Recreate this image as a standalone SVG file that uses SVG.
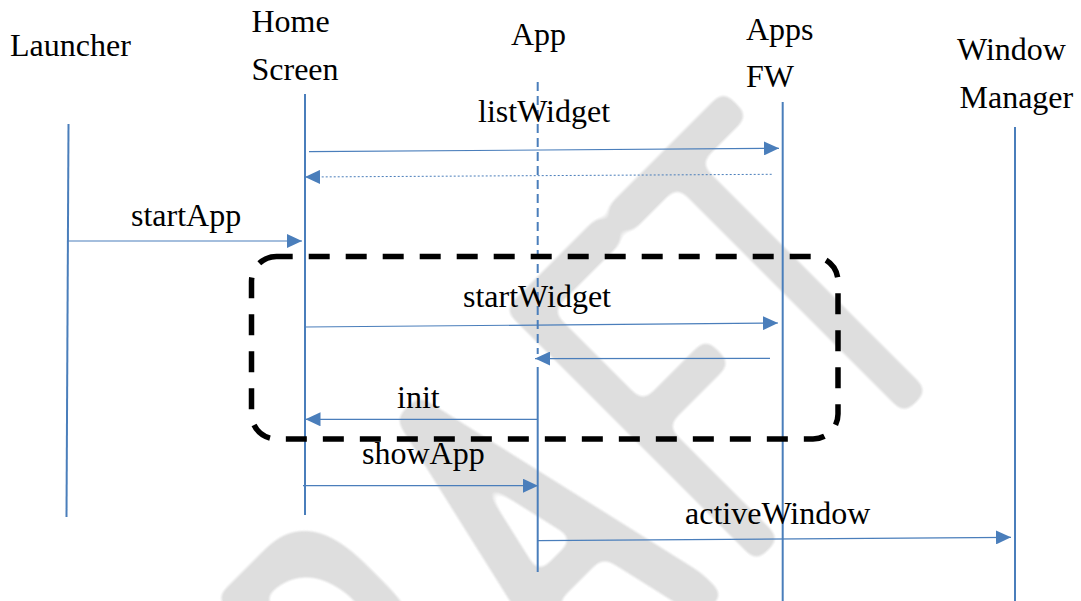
<svg xmlns="http://www.w3.org/2000/svg" width="1081" height="601" viewBox="0 0 1081 601">
<style>
.lbl{font-family:"Liberation Serif","Times New Roman",serif;font-size:32px;fill:#000}
.life{stroke:#4a7ebb;stroke-width:2;fill:none}
.msg{stroke:#4a7ebb;stroke-width:1.2;fill:none;marker-end:url(#ah)}
.ret{stroke:#4a7ebb;stroke-width:1;fill:none;stroke-dasharray:2 2;marker-end:url(#ah)}
.wm{font-family:Lato,"DejaVu Sans",sans-serif;font-weight:100;font-size:466px;fill:#dedede}
</style>
<defs>
<marker id="ah" markerWidth="15" markerHeight="14" refX="15" refY="7" orient="auto" markerUnits="userSpaceOnUse"><path d="M0,0 L15,7 L0,14 Z" fill="#4a7ebb"/></marker>
<filter id="wmf" filterUnits="userSpaceOnUse" x="-1000" y="300" width="1800" height="900" color-interpolation-filters="sRGB">
<feMorphology in="SourceAlpha" operator="dilate" radius="15" result="d"/>
<feGaussianBlur in="d" stdDeviation="7" result="b"/>
<feComponentTransfer in="b" result="t"><feFuncA type="linear" slope="6" intercept="-2.5"/></feComponentTransfer>
<feFlood flood-color="#dedede" result="c"/>
<feComposite in="c" in2="t" operator="in"/>
</filter>
</defs>
<rect width="1081" height="601" fill="#fff"/>
<g id="watermark" transform="rotate(-45)" filter="url(#wmf)"><text class="wm" transform="scale(0.55,1)" x="-689 -380 0 355 660" y="917" text-anchor="middle">DRAFT</text></g>
<g id="launcher"><text class="lbl" x="10" y="56">Launcher</text><line class="life" x1="68.5" y1="124" x2="66.5" y2="517"/></g>
<g id="home-screen"><text class="lbl" x="251.5" y="32">Home</text><text class="lbl" x="251.5" y="80">Screen</text><line class="life" x1="305" y1="94" x2="305" y2="515"/></g>
<g id="app"><text class="lbl" x="511" y="45">App</text><line class="life" x1="537.7" y1="82" x2="537.7" y2="354" stroke-dasharray="9 5"/><line class="life" x1="537.7" y1="367" x2="537.7" y2="572"/></g>
<g id="apps-fw"><text class="lbl" x="746" y="39.5">Apps</text><text class="lbl" x="746" y="87">FW</text><line class="life" x1="782.7" y1="102" x2="782.7" y2="601"/></g>
<g id="window-manager"><text class="lbl" x="957" y="60">Window</text><text class="lbl" x="959.5" y="107.5">Manager</text><line class="life" x1="1015" y1="127" x2="1015" y2="601"/></g>
<g id="fragment"><rect x="251.5" y="256.5" width="586.5" height="182.5" rx="25" ry="25" fill="none" stroke="#000" stroke-width="5.5" stroke-dasharray="21 16" stroke-dashoffset="4.8"/></g>
<g id="connectors">
<line class="msg" x1="309" y1="151.7" x2="779" y2="148.3"/>
<text class="lbl" x="478" y="122">listWidget</text>
<line class="ret" x1="771.7" y1="174.3" x2="305" y2="177"/>
<line class="msg" x1="68" y1="241" x2="302" y2="241"/>
<text class="lbl" x="131" y="226">startApp</text>
<line class="msg" x1="305" y1="327" x2="778" y2="323"/>
<text class="lbl" x="463" y="307">startWidget</text>
<line class="msg" x1="770" y1="358.3" x2="535" y2="358.6"/>
<line class="msg" x1="538" y1="419.3" x2="305.5" y2="419.3"/>
<text class="lbl" x="397" y="407.5">init</text>
<line class="msg" x1="303" y1="485.7" x2="538" y2="485.7"/>
<text class="lbl" x="362" y="463.5">showApp</text>
<line class="msg" x1="538" y1="540.7" x2="1011" y2="537.3"/>
<text class="lbl" x="685" y="524">activeWindow</text>
</g>
</svg>
